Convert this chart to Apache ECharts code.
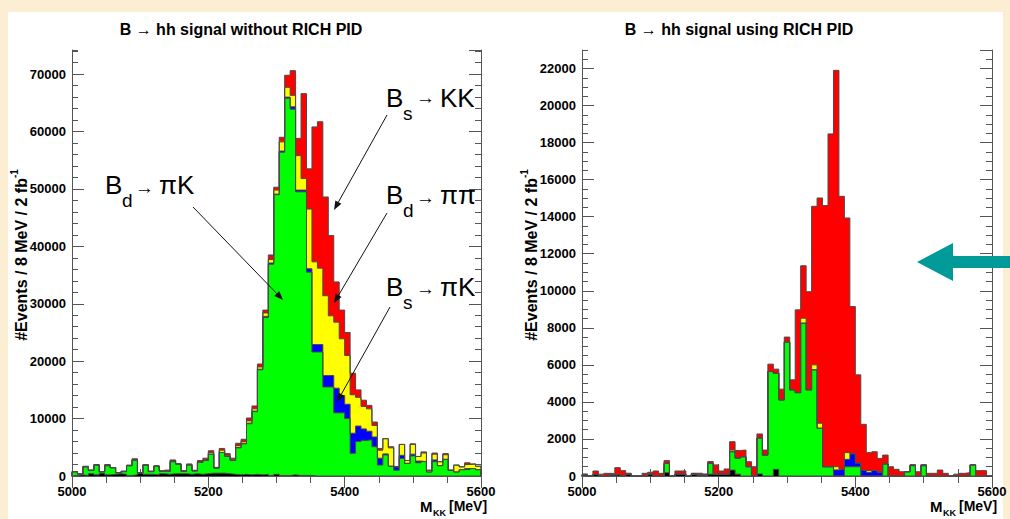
<!DOCTYPE html>
<html>
<head>
<meta charset="utf-8">
<script src="https://cdn.jsdelivr.net/npm/echarts@6/dist/echarts.min.js"></script>
<style>
  html, body { margin: 0; padding: 0; background: #fbeed2; }
  #chart { width: 1010px; height: 519px; }
</style>
</head>
<body>
<div id="chart"></div>
<script>
// Mass window: 75 bins of 8 MeV between 5000 and 5600 MeV
const massMin = 5000;
const massMax = 5600;
const binWidth = 8;

const xTickLabels = ['5000', '5200', '5400', '5600'];
const noPidTickLabels = ['0', '10000', '20000', '30000', '40000', '50000', '60000', '70000'];
const pidTickLabels = ['0', '2000', '4000', '6000', '8000', '10000', '12000', '14000',
  '16000', '18000', '20000', '22000'];

// Events per bin, without RICH PID (stacked bottom to top)
const noPidBlack = [100, 200, 100, 400, 200, 500, 200, 300, 400, 300,
  100, 200, 500, 300, 300, 200, 400, 300, 400, 400,
  400, 300, 400, 300, 400, 500, 500, 500, 400, 300,
  200, 300, 200, 300, 200, 300, 100, 300, 100, 100,
  200, 100, 100, 100, 0, 0, 0, 0, 0, 0,
  0, 0, 0, 0, 0, 0, 0, 0, 0, 0,
  0, 0, 0, 0, 0, 0, 0, 0, 0, 0,
  0, 0, 0, 0, 0];
const noPidBdPiK = [650, 150, 1500, 600, 1700, 250, 1600, 1150, 180, 470,
  1700, 2500, 80, 1600, 470, 1540, 470, 500, 2100, 1700,
  430, 1600, 500, 2100, 2300, 3300, 900, 3600, 3000, 2400,
  4700, 5300, 8900, 10900, 18300, 27300, 36800, 48700, 56300, 65700,
  63700, 49400, 49400, 35400, 21600, 21600, 15500, 15500, 11000, 11000,
  10000, 3950, 6000, 6200, 6300, 5100, 1900, 3650, 1700, 1000,
  3050, 2200, 3500, 2300, 2500, 700, 2500, 1800, 2900, 1000,
  700, 1100, 1100, 1300, 1100];
const noPidBsPiK = [0, 0, 0, 0, 0, 0, 0, 0, 0, 0,
  0, 0, 0, 0, 0, 0, 0, 0, 0, 0,
  0, 0, 0, 0, 0, 0, 0, 0, 0, 0,
  100, 100, 100, 100, 100, 200, 200, 100, 200, 200,
  400, 300, 300, 600, 1300, 1300, 2000, 2000, 4300, 3000,
  2500, 3500, 2700, 2000, 1500, 1700, 1200, 200, 0, 600,
  550, 0, 300, 300, 0, 0, 300, 0, 0, 0,
  0, 0, 200, 0, 0];
const noPidBdPiPi = [0, 0, 0, 0, 0, 0, 100, 0, 0, 0,
  0, 150, 0, 0, 0, 0, 0, 200, 200, 0,
  0, 100, 0, 0, 100, 300, 0, 400, 200, 200,
  300, 300, 400, 400, 400, 600, 600, 700, 1600, 1700,
  2000, 6000, 2000, 10400, 14400, 13300, 13900, 10400, 11500, 9900,
  8500, 6700, 5000, 3900, 3900, 2000, 1400, 2650, 3200, 0,
  1900, 500, 1700, 800, 1500, 300, 1000, 700, 800, 0,
  1200, 500, 700, 800, 600];
const noPidBsKK = [0, 0, 100, 0, 100, 0, 100, 0, 0, 100,
  100, 150, 0, 100, 100, 0, 0, 0, 100, 0,
  100, 100, 100, 300, 300, 300, 100, 300, 300, 200,
  400, 400, 500, 500, 500, 500, 800, 500, 800, 2100,
  4300, 3000, 14800, 7000, 23500, 25500, 17200, 14000, 7000, 5000,
  4000, 3750, 1300, 1100, 600, 600, 300, 0, 200, 0,
  0, 0, 100, 0, 200, 0, 200, 0, 200, 0,
  0, 0, 300, 0, 0];

// Events per bin, using RICH PID (stacked bottom to top)
const pidBlack = [50, 0, 80, 0, 0, 60, 80, 0, 100, 0,
  0, 0, 100, 0, 0, 180, 0, 100, 100, 0,
  100, 50, 50, 100, 100, 100, 100, 320, 100, 0,
  0, 0, 110, 0, 0, 360, 0, 0, 0, 0,
  0, 0, 0, 0, 0, 0, 0, 0, 0, 0,
  0, 0, 0, 0, 0, 0, 0, 0, 0, 0,
  0, 0, 0, 0, 0, 0, 0, 0, 0, 0,
  0, 0, 0, 0, 0];
const pidBdPiK = [0, 0, 0, 0, 0, 0, 0, 0, 0, 0,
  0, 0, 0, 0, 0, 500, 0, 0, 0, 0,
  0, 0, 0, 580, 0, 0, 0, 990, 870, 1040,
  500, 0, 1940, 1130, 5640, 5190, 4110, 7230, 4650, 4500,
  8250, 4650, 5730, 2580, 500, 500, 0, 0, 500, 500,
  500, 0, 0, 0, 0, 650, 0, 0, 0, 230,
  550, 0, 550, 0, 0, 0, 0, 0, 0, 0,
  0, 600, 0, 0, 0];
const pidBsPiK = [0, 0, 0, 0, 0, 0, 0, 0, 0, 0,
  0, 0, 0, 0, 0, 0, 0, 0, 0, 0,
  0, 0, 0, 0, 0, 0, 0, 0, 0, 0,
  0, 0, 0, 0, 0, 0, 0, 0, 0, 0,
  0, 0, 0, 0, 0, 0, 330, 360, 400, 700,
  200, 300, 200, 300, 200, 0, 0, 0, 0, 0,
  50, 0, 50, 0, 0, 0, 0, 0, 0, 0,
  0, 0, 0, 0, 0];
const pidBdPiPi = [0, 0, 0, 0, 0, 0, 0, 0, 0, 0,
  0, 0, 0, 0, 0, 0, 0, 0, 0, 0,
  0, 0, 0, 0, 0, 0, 0, 90, 0, 0,
  0, 0, 0, 0, 0, 0, 0, 0, 0, 0,
  270, 0, 270, 270, 0, 0, 180, 0, 360, 0,
  0, 0, 100, 0, 0, 0, 0, 0, 0, 0,
  0, 0, 0, 0, 0, 0, 0, 0, 0, 0,
  0, 0, 0, 0, 0];
const pidBsKK = [60, 0, 190, 100, 145, 80, 370, 290, 50, 0,
  0, 145, 100, 270, 145, 150, 0, 170, 170, 0,
  50, 100, 60, 100, 500, 170, 280, 450, 410, 360,
  270, 500, 220, 270, 400, 220, 580, 270, 540, 4470,
  2830, 5300, 8560, 12160, 14100, 17970, 21390, 14740, 12670, 7950,
  4760, 2490, 960, 1010, 750, 480, 500, 360, 230, 0,
  0, 230, 0, 145, 145, 320, 145, 0, 100, 145,
  180, 0, 290, 290, 0];

const componentColors = ['#000000', '#00ff00', '#0000ff', '#ffff00', '#ff0000'];
const FONT = '"Liberation Sans", Arial, Helvetica, sans-serif';

// Running sums of the components, bottom to top
function cumulative(parts) {
  const out = [];
  let run = parts[0].map(() => 0);
  parts.forEach(p => {
    run = run.map((r, i) => r + p[i]);
    out.push(run.slice());
  });
  return out;
}

// Histogram outline: a step for every bin, closed down to zero at both ends
function stairs(levels) {
  const pts = [[massMin, 0]];
  levels.forEach((v, i) => {
    const lo = massMin + i * binWidth;
    pts.push([lo, v], [lo + binWidth, v]);
  });
  pts.push([massMax, 0]);
  return pts;
}

// Cumulative histograms drawn from the tallest down, each filled to zero
function panelSeries(parts, xIdx, yIdx) {
  const cum = cumulative(parts);
  const list = [];
  for (let k = cum.length - 1; k >= 0; k--) {
    list.push({
      type: 'line',
      xAxisIndex: xIdx,
      yAxisIndex: yIdx,
      data: stairs(cum[k]),
      symbol: 'none',
      silent: true,
      animation: false,
      lineStyle: { color: '#4a4a4a', width: 1 },
      areaStyle: { color: componentColors[k], opacity: 1 }
    });
  }
  return list;
}

const axisColor = '#555';

function xAxes(gridIndex) {
  const common = {
    type: 'value', gridIndex, min: massMin, max: massMax, interval: 200,
    axisLine: { show: true, lineStyle: { color: axisColor, width: 1 } },
    axisTick: { show: true, inside: true, length: 12, lineStyle: { color: axisColor } },
    minorTick: { show: true, splitNumber: 4, length: 7, lineStyle: { color: axisColor } },
    splitLine: { show: false }, minorSplitLine: { show: false }
  };
  return [
    Object.assign({}, common, {
      position: 'bottom',
      axisLabel: {
        show: true, margin: 9, fontSize: 13, fontWeight: 'bold', fontFamily: FONT, color: '#000',
        formatter: v => (xTickLabels.includes(String(v)) ? String(v) : '')
      }
    }),
    Object.assign({}, common, { position: 'top', axisLabel: { show: false } })
  ];
}

// Long ticks at labelled values, short ticks at the subdivisions, on both sides
function yAxes(gridIndex, max, major, minor, labels) {
  const base = { type: 'value', gridIndex, min: 0, max, splitLine: { show: false } };
  const out = [];
  ['left', 'right'].forEach(side => {
    out.push(Object.assign({}, base, {
      position: side, offset: 0, interval: major,
      axisLine: { show: true, lineStyle: { color: axisColor, width: 1 } },
      axisTick: { show: true, inside: true, length: 12, lineStyle: { color: axisColor } },
      axisLabel: side === 'left' ? {
        show: true, margin: 6, fontSize: 13, fontWeight: 'bold', fontFamily: FONT, color: '#000',
        showMaxLabel: false,
        formatter: v => (labels.includes(String(v)) ? String(v) : '')
      } : { show: false }
    }));
    out.push(Object.assign({}, base, {
      position: side, offset: 0, interval: minor,
      axisLine: { show: false },
      axisTick: { show: true, inside: true, length: 6, lineStyle: { color: axisColor } },
      axisLabel: { show: false }
    }));
  });
  return out;
}

function piece(x, y, text, size, extra) {
  return Object.assign({
    type: 'text', x, y, z: 100, silent: true,
    style: {
      text, fill: '#000', font: 'normal ' + size + 'px ' + FONT,
      textAlign: 'left', textVerticalAlign: 'middle', verticalAlign: 'middle'
    }
  }, extra || {});
}

// "B_sub → rest" label in the style of the decay annotations
function decayLabel(x, base, sub, arrowY, rest) {
  return [
    piece(x, base - 9, 'B', 26),
    piece(x + 17, base + 6.5, sub, 19),
    piece(x + 30, arrowY, '\u2192', 19),
    piece(x + 54, base - 9, rest, 26)
  ];
}

function pointer(x1, y1, x2, y2) {
  const ang = Math.atan2(y2 - y1, x2 - x1);
  const L = 9, W = 3.5;
  const bx = x2 - L * Math.cos(ang), by = y2 - L * Math.sin(ang);
  const nx = -Math.sin(ang) * W, ny = Math.cos(ang) * W;
  return [
    { type: 'line', z: 100, silent: true, shape: { x1, y1, x2: bx, y2: by },
      style: { stroke: '#111', lineWidth: 1 } },
    { type: 'polygon', z: 100, silent: true,
      shape: { points: [[x2, y2], [bx + nx, by + ny], [bx - nx, by - ny]] },
      style: { fill: '#111' } }
  ];
}

function boldText(x, y, text, size, extra) {
  const p = piece(x, y, text, size, extra);
  p.style.font = 'bold ' + size + 'px ' + FONT;
  return p;
}

function massTitle(xM) {
  return [
    boldText(xM, 506, 'M', 15),
    boldText(xM + 13, 513, 'KK', 9),
    boldText(xM + 29, 506, '[MeV]', 14)
  ];
}

function eventsTitle(x) {
  return {
    type: 'text', x, y: 255, rotation: Math.PI / 2, z: 100, silent: true,
    style: {
      text: '{a|#Events / 8 MeV / 2 fb}{b|-1}',
      textAlign: 'center', textVerticalAlign: 'middle', verticalAlign: 'middle',
      rich: {
        a: { fontSize: 16, fontWeight: 'bold', fontFamily: FONT, lineHeight: 20, verticalAlign: 'bottom', fill: '#000' },
        b: { fontSize: 10, fontWeight: 'bold', fontFamily: FONT, lineHeight: 10, verticalAlign: 'top', fill: '#000' }
      }
    }
  };
}

const graphics = [
  { type: 'rect', z: -10, silent: true, shape: { x: 8, y: 12, width: 995, height: 507 }, style: { fill: '#ffffff' } },
  boldText(241, 29, 'B \u2192 hh signal without RICH PID', 16, {}),
  boldText(739, 29, 'B \u2192 hh signal using RICH PID', 16, {}),
  eventsTitle(19),
  eventsTitle(529),
  ...massTitle(420),
  ...massTitle(930),
  ...decayLabel(105, 194, 'd', 187, '\u03c0K'),
  ...decayLabel(386, 107, 's', 97, 'KK'),
  ...decayLabel(386, 204, 'd', 197, '\u03c0\u03c0'),
  ...decayLabel(386, 296, 's', 288, '\u03c0K'),
  ...pointer(193, 207, 283, 300),
  ...pointer(387, 115, 334, 210),
  ...pointer(387, 213, 334, 303),
  ...pointer(390, 307, 337, 402),
  { type: 'polygon', z: 100, silent: true,
    shape: { points: [[917, 262], [953, 243], [953, 256], [1010, 256], [1010, 268], [953, 268], [953, 281]] },
    style: { fill: '#009a98' } }
];
graphics[1].style.textAlign = 'center';
graphics[2].style.textAlign = 'center';

const chart = echarts.init(document.getElementById('chart'), null, { renderer: 'svg' });
chart.setOption({
  animation: false,
  backgroundColor: 'transparent',
  grid: [
    { left: 72, top: 50, width: 409, height: 426, show: false },
    { left: 582, top: 50, width: 410, height: 426, show: false }
  ],
  xAxis: [...xAxes(0), ...xAxes(1)],
  yAxis: [
    ...yAxes(0, 74200, 10000, 2000, noPidTickLabels),
    ...yAxes(1, 23000, 2000, 500, pidTickLabels)
  ],
  series: [
    ...panelSeries([noPidBlack, noPidBdPiK, noPidBsPiK, noPidBdPiPi, noPidBsKK], 0, 0),
    ...panelSeries([pidBlack, pidBdPiK, pidBsPiK, pidBdPiPi, pidBsKK], 2, 4)
  ],
  graphic: graphics
});
</script>
</body>
</html>
